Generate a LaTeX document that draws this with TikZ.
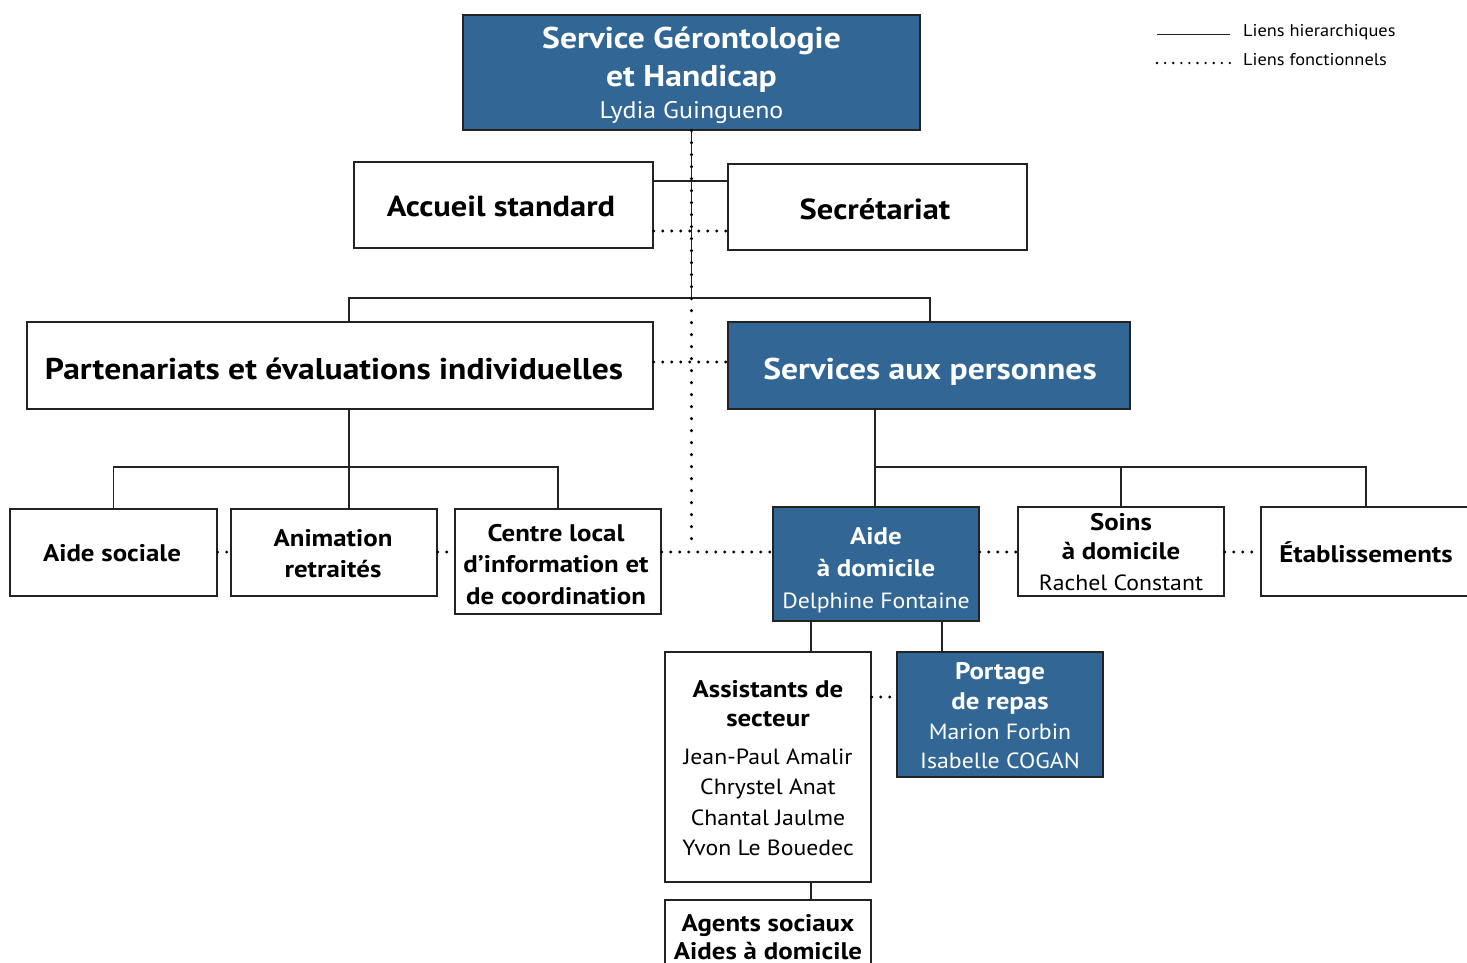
\documentclass[tikz,border=0pt]{standalone}
\usepackage{fontspec}
\setmainfont{PT Sans}[FakeStretch=1.08]
\newfontfamily\bfam{PT Sans}[FakeStretch=1.12]
\definecolor{boxblue}{RGB}{50,103,149}
\definecolor{edge}{RGB}{35,35,35}
\newcommand{\fs}[1]{\fontsize{#1}{#1}\selectfont}
\newcommand{\bfs}[1]{\bfam\bfseries\fontsize{#1}{#1}\selectfont}
\begin{document}
\begin{tikzpicture}[x={(1pt,0pt)},y={(0pt,-1pt)},
  box/.style={draw=edge, line width=1.3pt, fill=white, inner sep=0pt},
  bbox/.style={box, fill=boxblue},
  tb/.style={anchor=base, inner sep=0pt, text=black, font=\bfs{24}, yshift=-2pt},
  tr/.style={anchor=base, inner sep=0pt, text=black, font=\fs{22}, yshift=-2pt},
  wtb/.style={tb, text=white},
  wtr/.style={tr, text=white},
  hier/.style={draw=edge, line width=1.3pt},
  func/.style={draw=black, line width=3.2pt, line cap=round, dash pattern=on 0pt off 9pt},
  funcv/.style={draw=black, line width=3.4pt, line cap=round, dash pattern=on 0pt off 12pt}]
\path[use as bounding box, fill=white] (0,0) rectangle (1467,963);

% boxes
\node[bbox, minimum width=457, minimum height=115] (top) at (691.5,72.5) {};
\node[box, minimum width=299, minimum height=86] (acc) at (503.5,205) {};
\node[box, minimum width=299, minimum height=86] (sec) at (877.5,207) {};
\node[box, minimum width=626, minimum height=87] (part) at (340,365.5) {};
\node[bbox, minimum width=402, minimum height=87] (serv) at (929,365.5) {};
\node[box, minimum width=207, minimum height=87] (asoc) at (113.5,552.5) {};
\node[box, minimum width=206, minimum height=87] (anim) at (334,552.5) {};
\node[box, minimum width=206, minimum height=105] (clic) at (558,561.5) {};
\node[bbox, minimum width=206, minimum height=114] (aide) at (876,564) {};
\node[box, minimum width=206, minimum height=89] (soins) at (1121,551.5) {};
\node[box, minimum width=210, minimum height=89] (etab) at (1366,551.5) {};
\node[box, minimum width=206, minimum height=230] (assist) at (768,767) {};
\node[bbox, minimum width=206, minimum height=125] (portage) at (1000,714.5) {};
\node[box, minimum width=206, minimum height=90] (agents) at (768,945) {};

% hierarchical links
\coordinate (b1) at (349,298);
\coordinate (b2) at (930,298);
\draw[hier] (top.south) -- (top.south |- b1);
\draw[hier] (b1 |- part.north) -- (b1) -- (b2) -- (b2 |- serv.north);
\draw[hier] (acc.east |- 0,181) -- (sec.west |- 0,181);
\coordinate (c1) at (349,467);
\draw[hier] (c1 |- part.south) -- (c1);
\draw[hier] (asoc.north) |- (c1) -| (clic.north);
\draw[hier] (anim.north -| c1) -- (c1);
\coordinate (c2) at (875,467);
\draw[hier] (c2 |- serv.south) -- (c2);
\draw[hier] (aide.north -| c2) -- (c2) -| (etab.north);
\draw[hier] (c2) -| (soins.north);
\draw[hier] (aide.south -| 811,0) -- (assist.north -| 811,0);
\draw[hier] (aide.south -| 942,0) -- (portage.north -| 942,0);
\draw[hier] (assist.south -| 811,0) -- (agents.north -| 811,0);

% functional links
\draw[funcv] (top.south) -- (top.south |- 0,545);
\draw[func] (acc.east |- 0,231) -- (sec.west |- 0,231);
\draw[func] (part.east |- 0,362) -- (serv.west |- 0,362);
\draw[func] (asoc.east |- 0,552) -- (anim.west |- 0,552);
\draw[func] (anim.east |- 0,552) -- (clic.west |- 0,552);
\draw[func] (clic.east |- 0,552) -- (aide.west |- 0,552);
\draw[func] (aide.east |- 0,552) -- (soins.west |- 0,552);
\draw[func] (soins.east |- 0,552) -- (etab.west |- 0,552);
\draw[func] (assist.east |- 0,697) -- (portage.west |- 0,697);

% texts
\node[wtb, font=\bfs{30}] (t1) at (691.5,47) {Service Gérontologie};
\node[wtb, font=\bfs{30}] (t2) at (691.5,85) {et Handicap};
\node[wtr, font=\fs{24}] (t3) at (691.5,117) {Lydia Guingueno};
\node[tb, font=\bfs{29}] (acct) at (501,214) {Accueil standard};
\node[tb, font=\bfs{29}] (sect) at (875,217) {Secrétariat};
\node[tb, font=\bfs{30}] (partt) at (334,377) {Partenariats et évaluations individuelles};
\node[wtb, font=\bfs{30}] (servt) at (930,377) {Services aux personnes};
\node[tb] (asoct) at (112,559) {Aide sociale};
\node[tb] (anim1) at (333,544) {Animation};
\node[tb] (anim2) at (333,575) {retraités};
\node[tb] (clic1) at (556,539) {Centre local};
\node[tb] (clic2) at (556,570) {d’information et};
\node[tb] (clic3) at (556,602) {de coordination};
\node[wtb] (aide1) at (876,542) {Aide};
\node[wtb] (aide2) at (876,574) {à domicile};
\node[wtr] (aide3) at (876,606) {Delphine Fontaine};
\node[tb] (soins1) at (1121,528) {Soins};
\node[tb] (soins2) at (1121,557) {à domicile};
\node[tr] (soins3) at (1121,588) {Rachel Constant};
\node[tb] (etabt) at (1366,560) {Établissements};
\node[tb] (as1) at (768,695) {Assistants de};
\node[tb] (as2) at (768,724) {secteur};
\node[tr] (as3) at (768,762) {Jean-Paul Amalir};
\node[tr] (as4) at (768,792) {Chrystel Anat};
\node[tr] (as5) at (768,823) {Chantal Jaulme};
\node[tr] (as6) at (768,853) {Yvon Le Bouedec};
\node[wtb] (po1) at (1000,677) {Portage};
\node[wtb] (po2) at (1000,707) {de repas};
\node[wtr] (po3) at (1000,737) {Marion Forbin};
\node[wtr] (po4) at (1000,766) {Isabelle COGAN};
\node[tb] (ag1) at (768,929) {Agents sociaux};
\node[tb] (ag2) at (768,957) {Aides à domicile};

% legend
\coordinate (l1a) at (1157,35);
\coordinate (l1b) at (1230,35);
\coordinate (l2a) at (1157,63);
\coordinate (l2b) at (1230,63);
\draw[draw=edge, line width=1pt] (l1a) -- (l1b);
\draw[draw=black, line width=2.6pt, line cap=round, dash pattern=on 0pt off 8.1pt] (l2a) -- (l2b);
\node[tr, anchor=base west, font=\fs{17}] (leg1) at (1243,35) {Liens hierarchiques};
\node[tr, anchor=base west, font=\fs{17}] (leg2) at (1243,64) {Liens fonctionnels};
\end{tikzpicture}
\end{document}
